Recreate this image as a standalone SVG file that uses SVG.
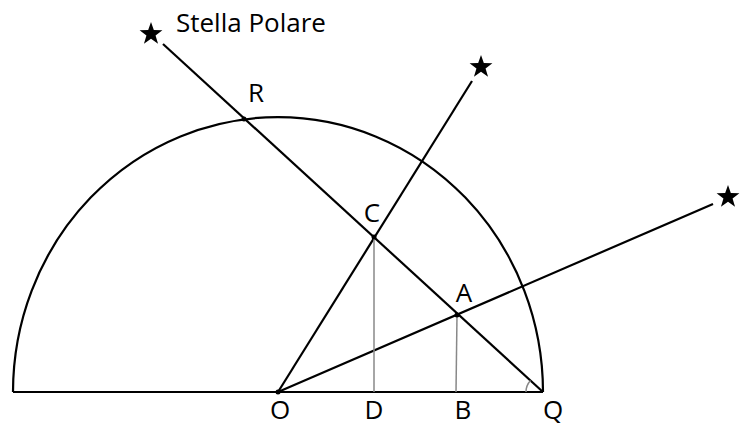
<svg xmlns="http://www.w3.org/2000/svg" width="742" height="426" viewBox="0 0 742 426">
<style>
.ln{stroke:#000;stroke-width:2.2;fill:none;stroke-linecap:butt}
.thin{stroke:#888;stroke-width:1.5;fill:none}
.lbl{font-family:"Open Sans","Liberation Sans",sans-serif;font-size:26px;fill:#000;text-anchor:middle}
.dot{fill:#000}
</style>
<defs>
<path id="star" d="M0,-12 L2.82,-3.88 L11.41,-3.71 L4.56,1.48 L7.05,9.71 L0,4.8 L-7.05,9.71 L-4.56,1.48 L-11.41,-3.71 L-2.82,-3.88 Z" fill="#000"/>
</defs>
<rect width="742" height="426" fill="#fff"/>
<g id="connectors">
<path class="ln" d="M13 392 A265 275 0 0 1 543 392"/>
<line class="ln" x1="13" y1="392" x2="543" y2="392"/>
<line class="ln" x1="163" y1="44" x2="543" y2="392"/>
<line class="ln" x1="278" y1="392" x2="472" y2="81"/>
<line class="ln" x1="278" y1="392" x2="713" y2="204"/>
<line class="thin" x1="374" y1="237" x2="374" y2="392"/>
<line class="thin" x1="457" y1="315" x2="456" y2="392"/>
<path class="thin" d="M526 392 A17 17 0 0 1 530.5 380.5"/>
</g>
<g id="star-polaris"><use href="#star" x="151" y="34"/><text x="176" y="32" class="lbl" style="text-anchor:start">Stella Polare</text></g>
<g id="star-2"><use href="#star" x="481" y="67"/></g>
<g id="star-3"><use href="#star" x="728" y="197"/></g>
<g id="R"><circle class="dot" cx="244" cy="119" r="2.5"/><text class="lbl" x="256" y="102">R</text></g>
<g id="C"><circle class="dot" cx="374" cy="237" r="2.5"/><text class="lbl" x="372" y="222">C</text></g>
<g id="A"><circle class="dot" cx="457" cy="315" r="2.5"/><text class="lbl" x="464" y="302">A</text></g>
<g id="O"><circle class="dot" cx="278" cy="392" r="2.5"/><text class="lbl" x="280" y="419">O</text></g>
<g id="D"><text class="lbl" x="374" y="419">D</text></g>
<g id="B"><text class="lbl" x="463" y="419">B</text></g>
<g id="Q"><text class="lbl" x="553" y="419">Q</text></g>
</svg>
